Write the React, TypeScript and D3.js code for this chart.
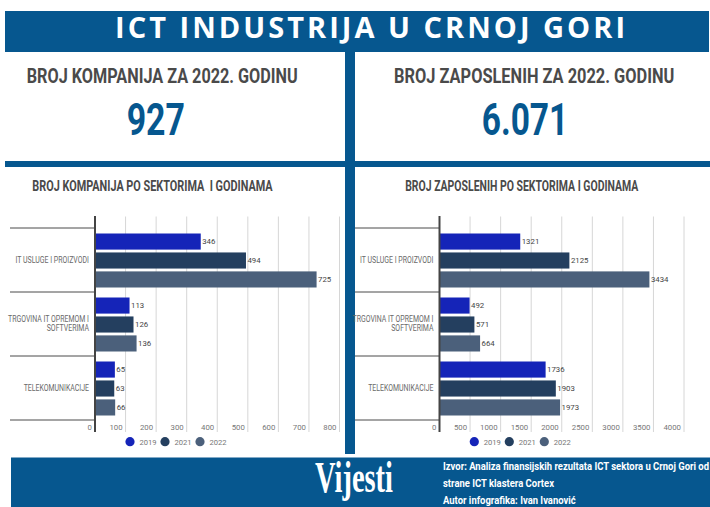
import React, { useLayoutEffect, useRef, useState } from "react";
import * as d3 from "d3";

// ---------- DATA ----------
const categories = ["IT USLUGE I PROIZVODI", "TRGOVINA IT OPREMOM I SOFTVERIMA", "TELEKOMUNIKACIJE"];
const categoryLabelLines = [["IT USLUGE I PROIZVODI"], ["TRGOVINA IT OPREMOM I", "SOFTVERIMA"], ["TELEKOMUNIKACIJE"]];
const years = ["2019", "2021", "2022"];

const companies2019 = [346, 113, 65];
const companies2021 = [494, 126, 63];
const companies2022 = [725, 136, 66];

const employees2019 = [1321, 492, 1736];
const employees2021 = [2125, 571, 1903];
const employees2022 = [3434, 664, 1973];

const companyTicks = [0, 100, 200, 300, 400, 500, 600, 700, 800];
const employeeTicks = [0, 500, 1000, 1500, 2000, 2500, 3000, 3500, 4000];

const headerTitle = "ICT INDUSTRIJA U CRNOJ GORI";
const kpiLabels = ["BROJ KOMPANIJA ZA 2022. GODINU", "BROJ ZAPOSLENIH ZA 2022. GODINU"];
const kpiValues = ["927", "6.071"];
const chartTitles = ["BROJ KOMPANIJA PO SEKTORIMA  I GODINAMA", "BROJ ZAPOSLENIH PO SEKTORIMA I GODINAMA"];
const footerLines = [
  "Izvor: Analiza finansijskih rezultata ICT sektora u Crnoj Gori od",
  "strane ICT klastera Cortex",
  "Autor infografika: Ivan Ivanović",
];

// ---------- STYLE ----------
const W = 710;
const H = 507;
const BLUE = "#06578f";
const COLORS = ["#1524b8", "#243f5f", "#4b607b"];
const NARROW = "'Liberation Sans Narrow', Roboto, 'Noto Sans', sans-serif";
const SANS = "Roboto, 'Noto Sans', sans-serif";

type FitProps = {
  x: number;
  y: number;
  width: number;
  anchor?: "start" | "middle" | "end";
  fontSize: number;
  fill: string;
  fontFamily: string;
  fontWeight?: number;
  children: string;
};

// Text squeezed horizontally (via transform) to a target width
function FitText({ x, y, width, anchor = "start", fontSize, fill, fontFamily, fontWeight = 700, children }: FitProps) {
  const ref = useRef<SVGTextElement>(null);
  const [s, setS] = useState(0.7);
  useLayoutEffect(() => {
    if (ref.current) {
      const l = ref.current.getComputedTextLength();
      if (l > 0) setS(width / l);
    }
  }, [width, children]);
  return (
    <text
      ref={ref}
      transform={`translate(${x},${y}) scale(${s},1)`}
      textAnchor={anchor}
      fontSize={fontSize}
      fill={fill}
      fontFamily={fontFamily}
      fontWeight={fontWeight}
      style={{ whiteSpace: "pre" }}
    >
      {children}
    </text>
  );
}

type PanelProps = {
  axisX: number;
  rangeEnd: number;
  domainMax: number;
  ticks: number[];
  series: number[][];
  labelRight: number;
  sepLeft: number;
  legendStart: number;
};

function BarPanel({ axisX, rangeEnd, domainMax, ticks, series, labelRight, sepLeft, legendStart }: PanelProps) {
  const x = d3.scaleLinear().domain([0, domainMax]).range([axisX, rangeEnd]);
  const y = d3.scaleBand<string>().domain(categories).range([228, 420]).padding(0);
  const inner = d3
    .scaleBand<string>()
    .domain(years)
    .range([5.5, 59.5])
    .paddingInner(0.15);
  const gridTop = 216.5;
  const gridBottom = 432;
  const bounds = [...categories.map((c) => y(c) as number), 420];
  const legendX = d3.scalePoint<string>().domain(years).range([legendStart, legendStart + 70]);

  return (
    <g>
      {ticks.filter((t) => t > 0).map((t) => (
        <line key={"g" + t} x1={x(t)} x2={x(t)} y1={gridTop} y2={gridBottom} stroke="#d6d6d6" strokeWidth={1} />
      ))}
      {bounds.map((b, i) => (
        <line key={"s" + i} x1={sepLeft} x2={axisX} y1={b} y2={b} stroke="#4a4a4a" strokeWidth={1} />
      ))}
      {categories.map((c, ci) => (
        <g key={c}>
          {years.map((yr, yi) => {
            const v = series[yi][ci];
            const by = (y(c) as number) + (inner(yr) as number);
            const bh = inner.bandwidth();
            return (
              <g key={yr}>
                <rect x={x(0)} y={by} width={x(v) - x(0)} height={bh} fill={COLORS[yi]} />
                <text x={x(v) + 1.5} y={by + bh / 2 + 2.8} fontSize={7.8} fill="#444" fontFamily={SANS}>
                  {v}
                </text>
              </g>
            );
          })}
          {categoryLabelLines[ci].map((ln, li) => {
            const n = categoryLabelLines[ci].length;
            const cy = (y(c) as number) + y.bandwidth() / 2 + (li - (n - 1) / 2) * 9 + 2.8;
            return (
              <text
                key={li}
                transform={`translate(${labelRight},${cy}) scale(0.85,1)`}
                textAnchor="end"
                fontSize={8.2}
                fill="#6a6a6a"
                fontFamily={SANS}
              >
                {ln}
              </text>
            );
          })}
        </g>
      ))}
      <line x1={axisX} x2={axisX} y1={gridTop - 0.5} y2={gridBottom} stroke="#444" strokeWidth={2} />
      {ticks.map((t) => (
        <text key={"t" + t} x={x(t) - 3} y={430} textAnchor="end" fontSize={7.8} fill="#777" fontFamily={SANS}>
          {t}
        </text>
      ))}
      {years.map((yr, yi) => (
        <g key={"l" + yr}>
          <circle cx={legendX(yr) as number} cy={441.7} r={4.6} fill={COLORS[yi]} />
          <text x={(legendX(yr) as number) + 9.5} y={444.5} fontSize={7.6} fill="#777" fontFamily={SANS}>
            {yr}
          </text>
        </g>
      ))}
    </g>
  );
}

export default function App() {
  const footRef = useRef<SVGTextElement>(null);
  const [footScale, setFootScale] = useState(0.75);
  useLayoutEffect(() => {
    if (footRef.current) {
      const l = footRef.current.getComputedTextLength();
      if (l > 0) setFootScale(266 / l);
    }
  }, []);

  return (
    <svg
      width={W}
      height={H}
      viewBox={`0 0 ${W} ${H}`}
      style={{ position: "absolute", left: 0, top: 0, background: "#fff" }}
    >
      <rect x={0} y={0} width={W} height={H} fill="#fff" />
      {/* header */}
      <rect x={5} y={11} width={704} height={41} fill={BLUE} />
      <text
        x={115}
        y={38.3}
        fontSize={29}
        fontWeight={700}
        fill="#fff"
        fontFamily="'Open Sans', sans-serif"
        textLength={510}
        lengthAdjust="spacing"
      >
        {headerTitle}
      </text>
      {/* center stem */}
      <rect x={345} y={52} width={10} height={402} fill={BLUE} />
      {/* KPI dividers */}
      <rect x={5} y={161} width={340} height={6} fill={BLUE} />
      <rect x={355} y={161} width={355} height={6} fill={BLUE} />

      {/* KPI */}
      <FitText x={162.2} y={83.3} width={271} anchor="middle" fontSize={21} fill="#4a4a4a" fontFamily={NARROW}>
        {kpiLabels[0]}
      </FitText>
      <FitText x={534.2} y={83.3} width={280} anchor="middle" fontSize={21} fill="#4a4a4a" fontFamily={NARROW}>
        {kpiLabels[1]}
      </FitText>
      <FitText x={155.8} y={135} width={58.3} anchor="middle" fontSize={44} fill={BLUE} fontFamily={NARROW}>
        {kpiValues[0]}
      </FitText>
      <FitText x={525} y={135} width={86.6} anchor="middle" fontSize={44} fill={BLUE} fontFamily={NARROW}>
        {kpiValues[1]}
      </FitText>

      {/* chart titles */}
      <FitText x={152.5} y={191} width={240.4} anchor="middle" fontSize={14.5} fill="#4a4a4a" fontFamily={NARROW}>
        {chartTitles[0]}
      </FitText>
      <FitText x={521.7} y={191} width={233.3} anchor="middle" fontSize={14.5} fill="#4a4a4a" fontFamily={NARROW}>
        {chartTitles[1]}
      </FitText>

      <BarPanel
        axisX={95}
        rangeEnd={339.5}
        domainMax={800}
        ticks={companyTicks}
        series={[companies2019, companies2021, companies2022]}
        labelRight={89}
        sepLeft={10}
        legendStart={130}
      />
      <BarPanel
        axisX={439.5}
        rangeEnd={684}
        domainMax={4000}
        ticks={employeeTicks}
        series={[employees2019, employees2021, employees2022]}
        labelRight={433.5}
        sepLeft={355}
        legendStart={474.3}
      />

      {/* footer */}
      <rect x={11} y={457.5} width={699} height={49.5} fill={BLUE} />
      <FitText x={315} y={491.7} width={78} fontSize={44} fill="#fff" fontFamily="'Liberation Serif', 'DejaVu Serif', serif">
        Vijesti
      </FitText>
      <g transform={`translate(443,0) scale(${footScale},1)`}>
        {footerLines.map((ln, i) => (
          <text key={i} ref={i === 0 ? footRef : undefined} x={0} y={470 + i * 17} fontSize={10} fontWeight={700} fill="#fff" fontFamily={NARROW}>
            {ln}
          </text>
        ))}
      </g>
    </svg>
  );
}
